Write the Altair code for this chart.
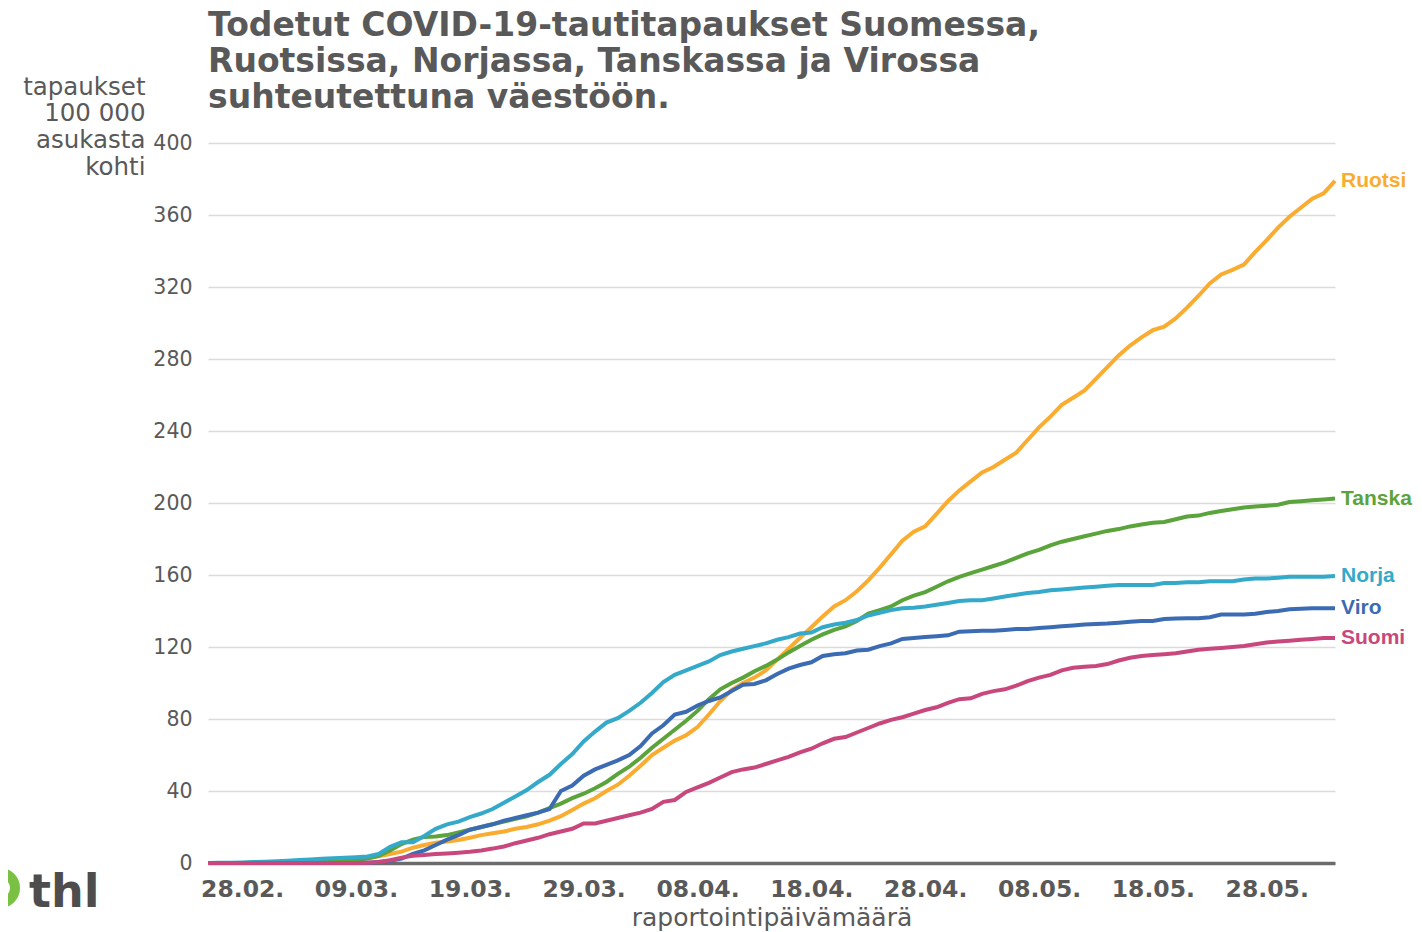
import altair as alt
import pandas as pd

# ---- data ----
start_date = "2020-02-25"
n_days = 100
tick_dates = ["2020-02-28", "2020-03-09", "2020-03-19", "2020-03-29", "2020-04-08",
              "2020-04-18", "2020-04-28", "2020-05-08", "2020-05-18", "2020-05-28"]
y_ticks = list(range(0, 401, 20))

series_names = ["Ruotsi", "Tanska", "Norja", "Viro", "Suomi"]
series_colors = ["#F9AC30", "#5BA33B", "#35A9C9", "#3B6BB2", "#C8487D"]

ruotsi = [0, 0, 0, 0, 0.1, 0.1, 0.1, 0.2, 0.3, 0.5,
          1.0, 1.2, 1.5, 2, 2.8, 3.8, 5, 6.3, 8.5, 10,
          11.2, 12, 12.8, 14, 15.5, 16.5, 17.5, 19, 20, 21.5,
          23.5, 26, 29.5, 33, 36, 40, 43.5, 48.5, 54, 60,
          64, 68, 71, 75.5, 82.5, 90, 96, 100, 103, 107,
          113, 119, 125, 131, 137, 142.5, 146, 151, 157, 164,
          171.5, 179, 184, 187, 194, 201, 207, 212, 217, 220,
          224, 228, 235, 242, 248, 254.5, 258.5, 262.5, 269, 275.5,
          282, 287.5, 292, 296, 298, 302.5, 308.5, 315, 322, 327,
          329.5, 332.5, 339.5, 346, 353, 359, 364, 369, 372, 379]

tanska = [0, 0, 0, 0, 0, 0, 0.1, 0.2, 0.3, 0.5,
          0.8, 1, 1.3, 1.8, 2.5, 4, 7, 10.5, 13, 14.5,
          14.7, 15.5, 17, 18.5, 20, 21.5, 23, 24.5, 26, 28,
          30.5, 33, 36, 38.5, 41.5, 45, 49.5, 53.5, 58.5, 64,
          69, 74, 79, 84.5, 91, 96.5, 100, 103, 106.5, 109.5,
          113, 117, 120.5, 124, 127, 129.5, 131.5, 134.5, 138.5, 140.5,
          142.5, 146, 148.5, 150.5, 153.5, 156.5, 159, 161, 163, 165,
          167, 169.5, 172, 174, 176.5, 178.5, 180, 181.5, 183, 184.5,
          185.5, 187, 188, 189, 189.5, 191, 192.5, 193, 194.5, 195.5,
          196.5, 197.5, 198, 198.5, 199, 200.5, 201, 201.5, 202, 202.5]

norja = [0, 0.1, 0.2, 0.3, 0.5, 0.7, 1, 1.3, 1.6, 2,
         2.3, 2.6, 2.9, 3.2, 3.6, 5, 9, 11.5, 11.5, 15,
         19, 21.5, 23, 25.5, 27.5, 30, 33.5, 37, 40.5, 45,
         49, 55, 60.5, 67.5, 73, 78, 80.5, 84.5, 89, 94.5,
         100.5, 104.5, 107, 109.5, 112, 115.5, 117.5, 119, 120.5, 122,
         124, 125.5, 127.5, 128, 131, 132.5, 133.5, 135, 137.5, 139,
         140.5, 141.5, 141.8, 142.5, 143.5, 144.5, 145.5, 146, 146, 147,
         148, 149, 150, 150.5, 151.5, 152, 152.5, 153, 153.5, 154,
         154.5, 154.5, 154.5, 154.5, 155.5, 155.5, 156, 156, 156.5, 156.5,
         156.5, 157.5, 158, 158, 158.5, 159, 159, 159, 159, 159.5]

viro = [0, 0, 0, 0, 0, 0, 0, 0, 0, 0,
        0, 0, 0, 0, 0.2, 0.5, 1.2, 2.5, 5, 7,
        10, 13, 15.5, 18.5, 20, 21.5, 23.5, 25, 26.5, 28,
        30, 40, 43, 48.5, 52, 54.5, 57, 60, 65, 72,
        76.5, 82.5, 84, 87.5, 90, 92, 95.5, 99, 99.5, 101.5,
        105, 108, 110, 111.5, 115, 116, 116.5, 118, 118.5, 120.5,
        122, 124.5, 125, 125.5, 126, 126.5, 128.5, 128.8, 129, 129,
        129.5, 130, 130, 130.5, 131, 131.5, 132, 132.5, 132.8, 133,
        133.5, 134, 134.5, 134.5, 135.5, 135.8, 136, 136, 136.5, 138,
        138, 138, 138.5, 139.5, 140, 141, 141.3, 141.5, 141.5, 141.5]

suomi = [0, 0, 0, 0, 0, 0, 0, 0, 0, 0,
         0, 0, 0, 0, 0.2, 0.5, 1.5, 3, 4, 4.5,
         5, 5.3, 5.7, 6.2, 7, 8, 9.2, 11, 12.5, 14,
         16, 17.5, 19, 22, 22, 23.5, 25, 26.5, 28, 30,
         34, 35, 39.5, 42, 44.5, 47.5, 50.5, 52, 53, 55,
         57, 59, 61.5, 63.5, 66.5, 69, 70, 72.5, 75, 77.5,
         79.5, 81, 83, 85, 86.5, 89, 91, 91.5, 94, 95.5,
         96.5, 98.5, 101, 103, 104.5, 107, 108.5, 109, 109.5, 110.5,
         112.5, 114, 115, 115.5, 116, 116.5, 117.5, 118.5, 119, 119.5,
         120, 120.5, 121.5, 122.5, 123, 123.5, 124, 124.5, 125, 125]

# ---- table ----
dates = pd.date_range(start_date, periods=n_days, freq="D").strftime("%Y-%m-%d").tolist()
rows = []
for name, vals in zip(series_names, [ruotsi, tanska, norja, viro, suomi]):
    for d, v in zip(dates, vals):
        rows.append({"maa": name, "pvm": d, "arvo": v})
df = pd.DataFrame(rows)
last = df.groupby("maa").tail(1).reset_index(drop=True)


def dt(s):
    y, m, d = (int(p) for p in s.split("-"))
    return alt.DateTime(year=y, month=m, date=d, utc=True)


GRAY = "#595959"
FONT = "DejaVu Sans"

xscale = alt.Scale(type="utc", domain=[dt(dates[0]), dt(dates[-1])])
yscale = alt.Scale(domain=[0, 400], nice=False)
cscale = alt.Scale(domain=series_names, range=series_colors)

x_axis = alt.Axis(
    values=[dt(t) for t in tick_dates], format="%d.%m.",
    title="raportointipäivämäärä", titleFont=FONT, titleFontSize=25,
    titleFontWeight="normal", titleColor=GRAY, titlePadding=5,
    labelFont=FONT, labelFontSize=23.5, labelFontWeight="bold", labelColor=GRAY,
    labelPadding=14, ticks=False, grid=False, labelOverlap=False,
    domainColor="#6b6b6b", domainWidth=3.5,
)
y_axis = alt.Axis(
    values=y_ticks, title=["tapaukset", "100 000", "asukasta", "kohti"],
    titleAngle=0, titleAlign="right", titleBaseline="alphabetic",
    titleX=-63, titleY=-49, titleLineHeight=26.7, titleFont=FONT,
    titleFontSize=24.5, titleFontWeight="normal", titleColor=GRAY,
    labelFont=FONT, labelFontSize=20.5, labelColor=GRAY, labelPadding=16,
    labelOverlap=False, tickCount=20,
    ticks=False, domain=False, grid=True, gridColor="#dcdcdc", gridWidth=1.5,
)

lines = alt.Chart(df).mark_line(strokeWidth=4).encode(
    x=alt.X("pvm:T", scale=xscale, axis=x_axis),
    y=alt.Y("arvo:Q", scale=yscale, axis=y_axis),
    color=alt.Color("maa:N", scale=cscale, legend=None),
)

labels = alt.Chart(last).mark_text(
    align="left", baseline="middle", dx=6, font="Liberation Sans",
    fontWeight="bold", fontSize=21,
).encode(
    x=alt.X("pvm:T", scale=xscale, axis=x_axis),
    y=alt.Y("arvo:Q", scale=yscale, axis=y_axis),
    text="maa:N",
    color=alt.Color("maa:N", scale=cscale, legend=None),
)

logo_df = pd.DataFrame({"t": ["thl"]})
logo_circle = alt.Chart(logo_df).mark_point(
    filled=False, color="#7AC143", strokeWidth=10, size=900, opacity=1
).encode(x=alt.value(-208), y=alt.value(745))
logo_text = alt.Chart(logo_df).mark_text(
    align="left", baseline="alphabetic", font=FONT, fontWeight="bold",
    fontSize=46, color="#4D4D4D"
).encode(x=alt.value(-179), y=alt.value(764), text="t:N")

chart = alt.layer(lines, labels, logo_circle, logo_text).properties(
    width=1127, height=720,
    title=alt.TitleParams(
        text=["Todetut COVID-19-tautitapaukset Suomessa,",
              "Ruotsissa, Norjassa, Tanskassa ja Virossa",
              "suhteutettuna väestöön."],
        anchor="start", frame="group", font=FONT, fontSize=33,
        fontWeight="bold", color=GRAY, lineHeight=36, offset=30, dy=71,
    ),
    autosize=alt.AutoSizeParams(type="none"),
    padding={"left": 200, "top": 135, "right": 79, "bottom": 68},
).configure_view(stroke=None)

chart.save("out.html", embed_options={"renderer": "svg", "actions": False})
